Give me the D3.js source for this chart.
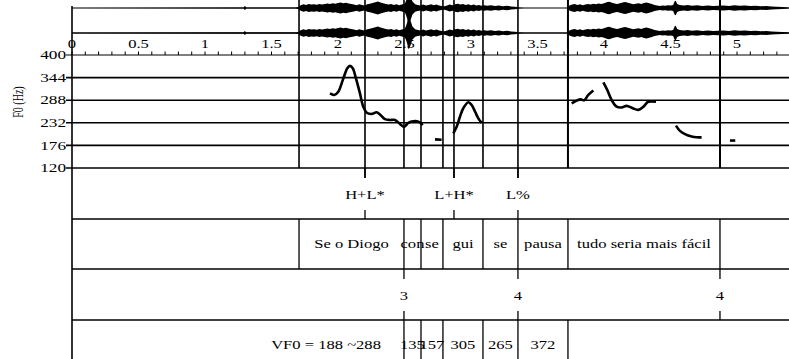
<!DOCTYPE html>
<html><head><meta charset="utf-8">
<script src="https://cdn.jsdelivr.net/npm/d3@7"></script>
<style>
html,body{margin:0;padding:0;background:#fff;}
svg{display:block;}
</style></head><body>
<svg id="chart" width="789" height="359"></svg>
<script>
// ---- axis labels ----
const timeLabels = [0, 0.5, 1, 1.5, 2, 2.5, 3, 3.5, 4, 4.5, 5];
const f0Ticks = [400, 344, 288, 232, 176, 120];

// ---- F0 contour pieces: [time (s), F0 (Hz)] ----
const f0Seg1 = [[1.940,305],[1.972,301],[2.002,309],[2.040,342],[2.070,367],[2.090,373],[2.111,367],[2.135,342],[2.165,305],[2.190,272],[2.216,257],[2.253,254],[2.291,258],[2.321,251],[2.353,241],[2.391,239],[2.429,239],[2.466,229],[2.496,222],[2.529,232],[2.566,236],[2.604,235],[2.637,226]];
const f0Seg2 = [[2.729,191],[2.779,190]];
const f0Seg3 = [[2.867,206],[2.892,222],[2.917,247],[2.942,268],[2.980,283],[3.005,276],[3.030,260],[3.055,243],[3.080,232]];
const f0Seg4 = [[3.757,280],[3.795,287],[3.825,290],[3.852,288],[3.882,301],[3.920,312]];
const f0Seg5 = [[3.995,332],[4.025,313],[4.058,288],[4.095,272],[4.133,270],[4.170,274],[4.216,268],[4.258,264],[4.296,272],[4.333,284],[4.391,284]];
const f0Seg6 = [[4.541,225],[4.571,212],[4.609,204],[4.659,198],[4.696,196],[4.734,196]];
const f0Seg7 = [[4.947,188],[4.987,188]];

// ---- waveform envelope: [time (s), half amplitude] ----
const waveEnvelope = [
  [0,0.4],[1.20,0.5],[1.29,0.5],[1.30,1.6],[1.31,0.5],[1.40,0.5],[1.68,0.6],
  [1.70,0.8],[1.72,2.2],[1.74,2.8],[1.76,2.4],[1.78,3.0],[1.80,2.6],[1.82,2.9],[1.84,2.5],[1.86,3.1],[1.88,2.7],[1.90,3.0],
  [1.92,3.4],[1.94,3.0],[1.96,3.6],[1.98,3.2],[2.00,3.8],[2.02,4.2],[2.04,3.6],[2.06,4.0],[2.08,3.4],[2.10,3.0],
  [2.12,2.6],[2.14,2.2],[2.16,2.8],[2.18,2.4],[2.20,2.0],
  [2.22,2.8],[2.24,3.2],[2.26,3.8],[2.28,4.4],[2.30,5.0],[2.32,4.2],[2.34,3.6],[2.36,3.0],[2.38,2.6],[2.40,3.0],
  [2.42,2.4],[2.44,2.8],[2.46,2.2],[2.48,2.6],[2.50,3.2],
  [2.51,5],[2.52,8],[2.53,12.5],[2.54,11],[2.55,8],[2.56,5],[2.58,2.8],[2.60,2.3],[2.62,2.0],
  [2.64,2.6],[2.66,2.0],[2.68,2.4],[2.70,2.8],[2.72,2.2],[2.74,2.6],[2.76,2.0],[2.78,1.6],[2.80,1.4],[2.82,2.0],
  [2.84,2.6],[2.86,2.2],[2.88,2.8],[2.90,3.2],[2.92,2.6],[2.94,3.0],[2.96,2.4],[2.98,2.8],[3.00,2.2],[3.02,2.6],
  [3.04,2.0],[3.06,2.4],[3.08,1.8],[3.10,2.2],
  [3.12,1.8],[3.15,2.2],[3.18,1.6],[3.21,2.0],[3.24,1.4],[3.27,1.8],[3.30,1.2],[3.33,1.0],[3.36,0.6],[3.40,0.4],
  [3.72,0.4],
  [3.74,2.0],[3.76,2.6],[3.78,3.0],[3.80,2.4],[3.82,2.8],[3.84,2.2],[3.86,2.6],[3.88,3.0],[3.90,2.6],[3.92,3.2],
  [3.94,2.8],[3.96,3.4],[3.98,3.0],[4.00,3.6],[4.02,4.4],[4.04,4.8],[4.06,4.0],[4.08,3.4],[4.10,3.0],[4.12,3.6],
  [4.14,4.2],[4.16,4.6],[4.18,4.0],[4.20,3.4],[4.22,2.8],[4.24,3.2],[4.26,3.6],[4.28,3.0],[4.30,3.8],[4.32,4.2],
  [4.34,3.6],[4.36,3.0],[4.38,2.4],[4.40,2.0],[4.42,1.6],[4.44,2.0],[4.46,1.8],[4.48,2.2],[4.50,2.0],[4.52,2.4],
  [4.53,5],[4.54,5.5],[4.55,3],[4.57,2.4],[4.60,2.0],[4.63,2.4],[4.66,1.8],[4.70,2.2],[4.74,1.6],[4.78,2.0],
  [4.82,1.6],[4.86,1.8],[4.90,2.0],[4.94,1.6],[4.98,2.2],[5.02,1.8],[5.06,2.0],[5.10,1.6],[5.14,1.8],[5.18,1.4],
  [5.22,1.6],[5.26,1.2],[5.30,1.0],[5.34,0.8],[5.39,0.6]
];

// ---- annotation tiers ----
const toneTimes = [2.203, 2.872, 3.353];
const toneLabels = ["H+L*", "L+H*", "L%"];
const wordBounds = [1.707, 2.496, 2.624, 2.789, 3.090, 3.353, 3.729, 4.872];
const wordLabels = ["Se o Diogo", "con", "se", "gui", "se", "pausa", "tudo seria mais fácil"];
const breakTimes = [2.496, 3.353, 4.872];
const breakLabels = ["3", "4", "4"];
const vf0Bounds = [2.496, 2.624, 2.789, 3.090, 3.353, 3.729];
const vf0Labels = ["135", "157", "305", "265", "372"];
const vf0Note = {time: 1.91, text: "VF0 = 188 ~288"};

// ---- layout ----
const W = 789, H = 359;
const left = 72;
const FONT = "'Liberation Serif', 'Times New Roman', Times, serif";
const x = d3.scaleLinear().domain([0, 5]).range([left, 737]);
const y = d3.scaleLinear().domain([120, 400]).range([168, 55]);
const amp = d3.scaleLinear().domain([0, 1]).range([0, 1.3]);
const tierTop = [168, 219, 269, 320];
const tierBottom = [219, 269, 320, H];
const waveCenters = [8, 33];
const STRETCH = 1.38;

const svg = d3.select("#chart");
const root = svg.append("g");

function label(g, px, py, str, size, anchor) {
  return g.append("text")
    .attr("transform", `translate(${px},${py}) scale(${STRETCH},1)`)
    .attr("text-anchor", anchor || "middle")
    .attr("dominant-baseline", "central")
    .attr("font-family", FONT)
    .attr("font-size", size)
    .attr("fill", "#000")
    .text(str);
}

// waveform (two channels)
const clip = svg.append("defs").append("clipPath").attr("id", "waveClip");
clip.append("rect").attr("x", left).attr("y", 0).attr("width", W - left).attr("height", 52);
const waveG = root.append("g").attr("clip-path", "url(#waveClip)");
waveCenters.forEach(c => {
  waveG.append("path")
    .datum(waveEnvelope)
    .attr("fill", "#000")
    .attr("d", d3.area().x(d => x(d[0])).y0(d => c - amp(d[1])).y1(d => c + amp(d[1])));
});
root.append("line").attr("x1", left).attr("x2", W).attr("y1", 33).attr("y2", 33)
  .attr("stroke", "#000").attr("stroke-width", 1);

// time labels
const tl = root.append("g");
timeLabels.forEach(t => label(tl, x(t), 44, String(t), 12));

// minor ticks on the top line of the F0 panel
const minor = d3.range(0, 54).map(i => i / 10);
root.append("g").selectAll("line").data(minor).join("line")
  .attr("x1", d => x(d)).attr("x2", d => x(d))
  .attr("y1", y(400)).attr("y2", y(400) - 3.5)
  .attr("stroke", "#000").attr("stroke-width", 1);

// F0 gridlines and labels
const grid = root.append("g");
f0Ticks.forEach(v => {
  grid.append("line").attr("x1", left - 6).attr("x2", W)
    .attr("y1", y(v)).attr("y2", y(v))
    .attr("stroke", "#000").attr("stroke-width", v === 400 ? 1.2 : 1.6);
  label(grid, left - 6, y(v), String(v), 12.5, "end");
});
root.append("text")
  .attr("transform", `translate(18,102) scale(${STRETCH},1) rotate(-90)`)
  .attr("text-anchor", "middle").attr("dominant-baseline", "central")
  .attr("font-family", FONT)
  .attr("font-size", 10).text("F0 (Hz)");

// tier horizontal lines
tierTop.slice(1).forEach(v => {
  root.append("line").attr("x1", left).attr("x2", W).attr("y1", v).attr("y2", v)
    .attr("stroke", "#000").attr("stroke-width", 1.6);
});

// left frame
root.append("line").attr("x1", left).attr("x2", left).attr("y1", 6).attr("y2", H)
  .attr("stroke", "#000").attr("stroke-width", 1.6);

// boundary lines through the waveform and F0 panel
const allBounds = Array.from(new Set([...wordBounds, ...toneTimes])).sort((a, b) => a - b);
const vb = root.append("g");
allBounds.forEach(t => {
  const isTone = toneTimes.includes(t);
  vb.append("line").attr("x1", x(t)).attr("x2", x(t))
    .attr("y1", 0).attr("y2", isTone ? 178 : 168)
    .attr("stroke", "#000").attr("stroke-width", (t === 3.729 || t === 4.872) ? 2 : 1.6);
});

// point tier: ticks above/below each label
function pointTier(times, labels, top, bottom) {
  const g = root.append("g");
  times.forEach((t, i) => {
    g.append("line").attr("x1", x(t)).attr("x2", x(t)).attr("y1", top).attr("y2", top + 10)
      .attr("stroke", "#000").attr("stroke-width", 1.3);
    g.append("line").attr("x1", x(t)).attr("x2", x(t)).attr("y1", bottom - 9).attr("y2", bottom)
      .attr("stroke", "#000").attr("stroke-width", 1.3);
    label(g, x(t), (top + bottom) / 2 + 1, labels[i], 12);
  });
}
// interval tier: boundaries with centred labels
function intervalTier(bounds, labels, top, bottom) {
  const g = root.append("g");
  bounds.forEach(t => {
    g.append("line").attr("x1", x(t)).attr("x2", x(t)).attr("y1", top).attr("y2", bottom)
      .attr("stroke", "#000").attr("stroke-width", 1.3);
  });
  labels.forEach((s, i) => {
    label(g, (x(bounds[i]) + x(bounds[i + 1])) / 2, (top + bottom) / 2, s, 12);
  });
  return g;
}

pointTier(toneTimes, toneLabels, tierTop[0], tierBottom[0]);
intervalTier(wordBounds, wordLabels, tierTop[1], tierBottom[1]);
pointTier(breakTimes, breakLabels, tierTop[2], tierBottom[2]);
const vg = intervalTier(vf0Bounds, vf0Labels, tierTop[3], tierBottom[3] + 10);
label(vg, x(vf0Note.time), 345, vf0Note.text, 12);

// F0 contour
const line = d3.line().x(d => x(d[0])).y(d => y(d[1])).curve(d3.curveCatmullRom);
[f0Seg1, f0Seg2, f0Seg3, f0Seg4, f0Seg5, f0Seg6, f0Seg7].forEach(seg => {
  root.append("path").datum(seg).attr("d", line)
    .attr("fill", "none").attr("stroke", "#000").attr("stroke-width", 2.6)
    .attr("stroke-linecap", "butt").attr("stroke-linejoin", "round");
});
</script>
</body></html>
